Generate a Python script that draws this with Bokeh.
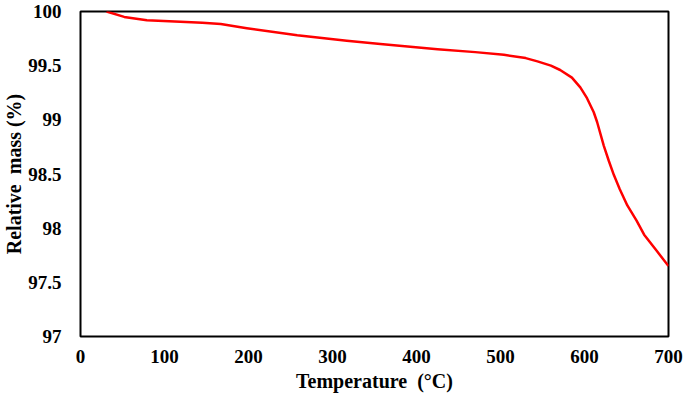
from bokeh.plotting import figure
from bokeh.embed import file_html
from bokeh.resources import INLINE
from bokeh.models import FixedTicker, Range1d

# Data
temperature = [31, 52, 79, 119, 145, 167, 198, 258, 317, 357, 425, 470, 504, 530, 544, 560, 571,
               585, 595, 603, 611, 615, 623, 629, 635, 642, 651, 662, 671, 685, 700]
relative_mass = [100.0, 99.95, 99.92, 99.905, 99.896, 99.884, 99.845, 99.78, 99.73, 99.70,
                 99.652, 99.625, 99.60, 99.57, 99.54, 99.50, 99.46, 99.39, 99.30, 99.20,
                 99.07, 98.98, 98.76, 98.62, 98.49, 98.36, 98.21, 98.07, 97.94, 97.80, 97.65]

x_ticks = [0, 100, 200, 300, 400, 500, 600, 700]
x_tick_labels = ["0", "100", "200", "300", "400", "500", "600", "700"]
y_ticks = [97, 97.5, 98, 98.5, 99, 99.5, 100]
y_tick_labels = ["97", "97.5", "98", "98.5", "99", "99.5", "100"]

FONT = "Liberation Serif"

p = figure(width=684, height=396, output_backend="svg", toolbar_location=None,
           x_range=Range1d(0, 700), y_range=Range1d(97, 100),
           min_border_left=80, min_border_right=16, min_border_top=11, min_border_bottom=60)

p.line(temperature, relative_mass, line_color="#ff0000", line_width=2.5, line_join="round")

p.xgrid.visible = False
p.ygrid.visible = False
p.outline_line_color = "black"
p.outline_line_width = 2
p.background_fill_color = "white"
p.border_fill_color = "white"

p.xaxis.ticker = FixedTicker(ticks=x_ticks)
p.yaxis.ticker = FixedTicker(ticks=y_ticks)
p.xaxis.major_label_overrides = {t: l for t, l in zip(x_ticks, x_tick_labels)}
p.yaxis.major_label_overrides = {t: l for t, l in zip(y_ticks, y_tick_labels)}

for ax in (p.xaxis[0], p.yaxis[0]):
    ax.axis_line_color = None
    ax.major_tick_line_color = None
    ax.minor_tick_line_color = None
    ax.major_label_text_font = FONT
    ax.major_label_text_font_style = "bold"
    ax.major_label_text_font_size = "19px"
    ax.major_label_text_color = "black"
    ax.axis_label_text_font = FONT
    ax.axis_label_text_font_style = "bold"
    ax.axis_label_text_font_size = "20px"
    ax.axis_label_text_color = "black"

p.xaxis.axis_label = "Temperature\u00a0\u00a0(°C)"
p.yaxis.axis_label = "Relative\u00a0\u00a0mass (%)"
p.xaxis.major_label_standoff = 7
p.xaxis.axis_label_standoff = 4
p.yaxis.major_label_standoff = 13
p.yaxis.axis_label_standoff = 0

open("out.html", "w").write(file_html(p, INLINE))
